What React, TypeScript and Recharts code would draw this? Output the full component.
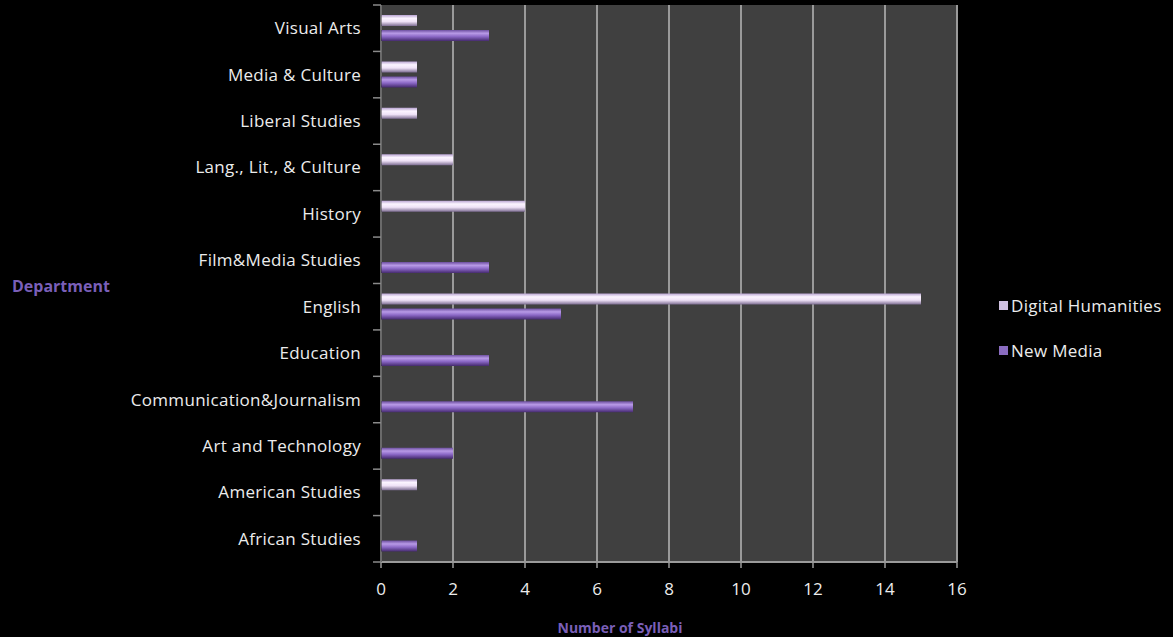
import React from 'react';
import { BarChart, Bar, XAxis, YAxis, CartesianGrid, Label } from 'recharts';

const departments = [
  'Visual Arts',
  'Media & Culture',
  'Liberal Studies',
  'Lang., Lit., & Culture',
  'History',
  'Film&Media Studies',
  'English',
  'Education',
  'Communication&Journalism',
  'Art and Technology',
  'American Studies',
  'African Studies',
];
const digitalHumanities = [1, 1, 1, 2, 4, 0, 15, 0, 0, 0, 1, 0];
const newMedia = [3, 1, 0, 0, 0, 3, 5, 3, 7, 2, 0, 1];
const xTicks = [0, 2, 4, 6, 8, 10, 12, 14, 16];
const legendItems = [
  { label: 'Digital Humanities', color: '#cfc0e0' },
  { label: 'New Media', color: '#8a6cc0' },
];

const data = departments.map((name, i) => ({
  name,
  dh: digitalHumanities[i],
  nm: newMedia[i],
}));

const FONT = '"Open Sans", sans-serif';
const PLOT_TOP = 5;
const PLOT_BOTTOM = 562;
const BAND = (PLOT_BOTTOM - PLOT_TOP) / departments.length;

function DeptTick(props: any) {
  const { x, y, payload, index } = props;
  const top = y - BAND / 2;
  return (
    <g>
      <line x1={x} x2={x + 8} y1={top} y2={top} stroke="#8a8a8a" strokeWidth={1.5} />
      {index === departments.length - 1 && (
        <line x1={x} x2={x + 8} y1={top + BAND} y2={top + BAND} stroke="#8a8a8a" strokeWidth={1.5} />
      )}
      <text
        x={x - 12}
        y={y}
        dy={6}
        textAnchor="end"
        fill="#ececec"
        fontSize={17}
        letterSpacing={0.3}
        fontFamily={FONT}
      >
        {payload.value}
      </text>
    </g>
  );
}

export default function App() {
  return (
    <div style={{ position: 'absolute', left: 0, top: 0, width: 1173, height: 637, background: '#000' }}>
      <style>{'body{margin:0;background:#000}'}</style>
      <BarChart
        width={1173}
        height={637}
        data={data}
        layout="vertical"
        margin={{ top: PLOT_TOP, right: 216, bottom: 0, left: 0 }}
        barCategoryGap="22%"
        barGap={4}
      >
        <defs>
          <linearGradient id="gDH" x1="0" y1="0" x2="0" y2="1">
            <stop offset="0%" stopColor="#b9a4d2" />
            <stop offset="30%" stopColor="#fbf4ff" />
            <stop offset="60%" stopColor="#efe2f7" />
            <stop offset="100%" stopColor="#7d6d92" />
          </linearGradient>
          <linearGradient id="gNM" x1="0" y1="0" x2="0" y2="1">
            <stop offset="0%" stopColor="#6d4fa0" />
            <stop offset="30%" stopColor="#b89ae6" />
            <stop offset="60%" stopColor="#8b68c6" />
            <stop offset="100%" stopColor="#452a6e" />
          </linearGradient>
        </defs>
        <CartesianGrid horizontal={false} stroke="#9a9a9a" strokeWidth={2} fill="#404040" />
        <XAxis
          type="number"
          domain={[0, 16]}
          ticks={xTicks}
          interval={0}
          height={75}
          axisLine={{ stroke: '#9a9a9a', strokeWidth: 2 }}
          tickLine={{ stroke: '#9a9a9a', strokeWidth: 1.5 }}
          tickSize={6}
          tick={{ fill: '#ececec', fontSize: 17, fontFamily: FONT }}
          tickMargin={15}
        >
          <Label
            value="Number of Syllabi"
            position="insideBottom"
            offset={4}
            dx={-49}
            fill="#7a5fb8"
            fontSize={14}
            fontWeight="bold"
            fontFamily={FONT}
          />
        </XAxis>
        <YAxis
          type="category"
          dataKey="name"
          width={381}
          axisLine={{ stroke: '#3a3a3a', strokeWidth: 1 }}
          tickLine={false}
          tick={<DeptTick />}
          interval={0}
        >
          <Label
            value="Department"
            position="insideLeft"
            offset={12}
            dy={3}
            fill="#7a5fb8"
            fontSize={16}
            fontWeight="bold"
            fontFamily={FONT}
          />
        </YAxis>
        <Bar dataKey="dh" name="Digital Humanities" fill="url(#gDH)" barSize={11} isAnimationActive={false} />
        <Bar dataKey="nm" name="New Media" fill="url(#gNM)" barSize={11} isAnimationActive={false} />
      </BarChart>
      <div
        style={{
          position: 'absolute',
          left: 999,
          top: 293,
          fontFamily: FONT,
          fontSize: 17,
          letterSpacing: 0.3,
          color: '#ececec',
        }}
      >
        {legendItems.map((it) => (
          <div key={it.label} style={{ display: 'flex', alignItems: 'center', height: 24, marginBottom: 21 }}>
            <span style={{ width: 9, height: 9, background: it.color, marginRight: 3, display: 'inline-block' }} />
            {it.label}
          </div>
        ))}
      </div>
    </div>
  );
}
